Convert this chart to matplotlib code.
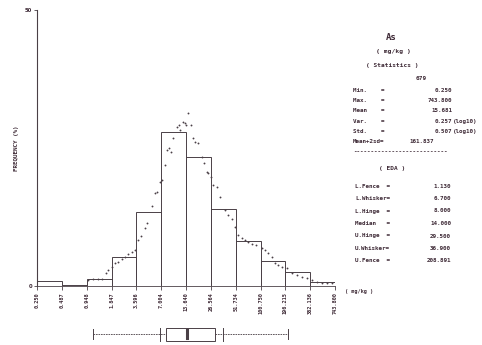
import numpy as np
import matplotlib.pyplot as plt
from matplotlib.patches import Rectangle

# bin edges of the log-scaled histogram (mg/kg)
edges = [0.250, 0.487, 0.948, 1.847, 3.596, 7.004, 13.640,
         26.564, 51.734, 100.750, 196.215, 382.136, 743.800]
edge_labels = ["0.250", "0.487", "0.948", "1.847", "3.596", "7.004", "13.640",
               "26.564", "51.734", "100.750", "196.215", "382.136", "743.800"]
freq_pct = [0.9, 0.2, 1.3, 5.3, 13.4, 27.9, 23.4, 13.9, 8.2, 4.5, 2.5, 0.7]

# finer frequency curve drawn as dots
dot_x = [0.98, 1.12, 1.29, 1.43, 1.59, 1.68, 1.87, 2.03, 2.20, 2.45, 2.65, 2.88,
         3.20, 3.47, 3.76, 4.07, 4.54, 4.79, 5.47, 5.93, 6.26, 6.79, 7.16, 7.76,
         8.19, 8.65, 9.12, 9.62, 10.7, 11.3, 11.6, 12.6, 13.3, 13.6, 14.4, 15.6,
         16.4, 17.4, 18.8, 21.0, 22.1, 24.0, 24.6, 26.7, 28.1, 31.3, 34.0, 38.8,
         42.1, 46.9, 50.8, 55.1, 61.2, 66.4, 71.9, 80.2, 89.2, 105, 114, 123,
         137, 149, 161, 179, 205, 234, 268, 307, 351, 401, 459, 525, 600, 685]
dot_y = [1.1, 1.3, 1.3, 1.3, 2.4, 2.9, 3.4, 4.2, 4.3, 4.9, 5.3, 5.8,
         6.2, 6.5, 8.3, 9.1, 10.5, 11.4, 14.5, 16.8, 17.0, 18.8, 19.2, 21.9,
         24.6, 25.0, 24.3, 26.8, 28.8, 29.2, 28.3, 29.7, 29.5, 29.2, 31.3, 29.2,
         26.8, 26.1, 25.9, 23.4, 22.3, 20.7, 20.5, 19.7, 18.3, 17.9, 16.1, 13.8,
         12.9, 12.1, 10.7, 9.2, 8.7, 8.3, 8.0, 7.6, 7.4, 6.9, 6.5, 6.0,
         5.3, 4.2, 3.8, 3.4, 3.3, 2.4, 2.0, 1.6, 1.4, 1.1, 0.7, 0.5, 0.5, 0.5]

element = "As"
unit = "mg/kg"
n_samples = "679"
stat_names = ["Min.    =", "Max.    =", "Mean    =", "Var.    =", "Std.    =", "Mean+2sd="]
stat_values = ["0.250", "743.800", "15.681", "0.257", "0.507", "161.837"]
stat_suffix = ["", "", "", "(log10)", "(log10)", ""]
eda_names = ["L.Fence  =", "L.Whisker=", "L.Hinge  =", "Median   =",
             "U.Hinge  =", "U.Whisker=", "U.Fence  ="]
eda_values = [1.130, 6.700, 8.000, 14.000, 29.500, 36.900, 208.891]

ink = "#4a4046"
txt = "#3e2a36"
W, H = 482, 345

fig = plt.figure(figsize=(W / 100, H / 100), dpi=100)
fig.patch.set_facecolor("white")


def fx(px):
    return px / W


def fy(py):
    return 1 - py / H


ax = fig.add_axes([fx(37), fy(286), fx(335) - fx(37), fy(10) - fy(286)])
ax.set_xscale("log")
ax.set_xlim(edges[0], edges[-1])
ax.set_ylim(0, 50)

ax.bar(edges[:-1], freq_pct, width=np.diff(edges), align="edge",
       fill=False, edgecolor=ink, linewidth=0.7)
ax.scatter(dot_x, dot_y, s=1.8, color=ink, linewidths=0)

for s in ["top", "right"]:
    ax.spines[s].set_visible(False)
ax.spines["left"].set_color(ink)
ax.spines["left"].set_linewidth(0.8)
ax.spines["bottom"].set_color(ink)
ax.spines["bottom"].set_linewidth(0.6)
ax.spines["bottom"].set_linestyle((0, (2, 1)))

ax.minorticks_off()
ax.set_xticks(edges)
ax.set_xticklabels(edge_labels, rotation=90, fontsize=3.8,
                   fontfamily="DejaVu Sans Mono", color=txt, fontweight="bold")
ax.set_yticks([0, 50])
ax.set_yticklabels(["0", "50"], fontsize=3.8, color=txt, fontweight="bold")
ax.tick_params(axis="x", length=3, width=0.6, color=ink, pad=1.5)
ax.tick_params(axis="y", length=2, width=0.6, color=ink, pad=1.5)
ax.set_ylabel("FREQUENCY (%)", fontsize=4.2, color=txt, fontweight="bold",
              fontfamily="DejaVu Sans Mono", labelpad=5)
ax.yaxis.set_label_coords(-0.06, 0.5)
ax.patch.set_alpha(0)

fig.text(fx(345), fy(292), "( " + unit + " )", fontsize=3.8, color=txt,
         fontweight="bold", fontfamily="DejaVu Sans Mono", va="center")

# box plot under the histogram
bx = fig.add_axes([fx(37), fy(345), fx(335) - fx(37), fy(320) - fy(345)])
bx.set_xscale("log")
bx.set_xlim(edges[0], edges[-1])
bx.set_ylim(0, 25)
bx.axis("off")
l_fence, l_whisk, l_hinge, med, u_hinge, u_whisk, u_fence = eda_values
yc = 11
bx.plot([l_fence, l_hinge], [yc, yc], color=ink, lw=0.6, ls=(0, (2, 1)))
bx.plot([u_hinge, u_fence], [yc, yc], color=ink, lw=0.6, ls=(0, (2, 1)))
for v, h in [(l_fence, 5), (u_fence, 5), (l_whisk, 6.5), (u_whisk, 6.5)]:
    bx.plot([v, v], [yc - h, yc + h], color=ink, lw=0.7)
bx.add_patch(Rectangle((l_hinge, yc - 6.5), u_hinge - l_hinge, 13,
                       fill=False, edgecolor=ink, lw=0.7))
bx.plot([med, med], [yc - 4, yc + 4], color=ink, lw=2.2)

# statistics panel
mono = dict(fontfamily="DejaVu Sans Mono", color=txt, fontweight="bold")
fig.text(fx(391), fy(38), element, fontsize=6.5, ha="center", va="center", **mono)
fig.text(fx(393), fy(52), "( " + unit + " )", fontsize=4.6, ha="center", va="center", **mono)
fig.text(fx(392), fy(65), "( Statistics )", fontsize=4.4, ha="center", va="center", **mono)
fig.text(fx(427), fy(79), n_samples, fontsize=4.4, ha="right", va="center", **mono)
for i, (nm, val, suf) in enumerate(zip(stat_names, stat_values, stat_suffix)):
    y = 90 + i * 10.4
    right = 434 if nm.startswith("Mean+") else 452
    fig.text(fx(353), fy(y), nm, fontsize=4.2, ha="left", va="center", **mono)
    fig.text(fx(right), fy(y), val, fontsize=4.2, ha="right", va="center", **mono)
    if suf:
        fig.text(fx(452.5), fy(y), suf, fontsize=4.2, ha="left", va="center", **mono)
fig.text(fx(353), fy(152), "-" * 27, fontsize=4.2, ha="left", va="center", **mono)
fig.text(fx(392), fy(168), "( EDA )", fontsize=4.4, ha="center", va="center", **mono)
for i, (nm, val) in enumerate(zip(eda_names, eda_values)):
    y = 186 + i * 12.5
    fig.text(fx(355), fy(y), nm, fontsize=4.2, ha="left", va="center", **mono)
    fig.text(fx(451), fy(y), f"{val:.3f}", fontsize=4.2, ha="right", va="center", **mono)

fig.savefig("out.png", dpi=100)
